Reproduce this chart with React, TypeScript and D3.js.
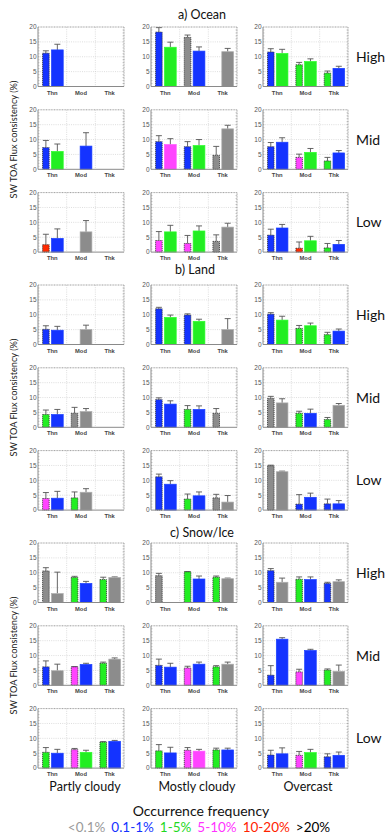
import React from "react";
import * as d3 from "d3";

const width = 387;
const height = 836;

const surfaceTitles = ["a) Ocean", "b) Land", "c) Snow/Ice"];
const cloudHeights = ["High", "Mid", "Low"];
const coverClasses = ["Partly cloudy", "Mostly cloudy", "Overcast"];
const thicknessLabels = ["Thn", "Mod", "Thk"];
const yTicks = [0, 5, 10, 15, 20];
const freqLabels = ["<0.1%", "0.1-1%", "1-5%", "5-10%", "10-20%", ">20%"];
const freqColors = ["#8c8c8c", "#1433ff", "#22ee22", "#ff44ff", "#ff2a00", "#000000"];
const freqTextColors = ["#9a9a9a", "#1433ff", "#1fd81f", "#ff33ff", "#ff2200", "#000000"];

// each panel: [Thn dashed, Thn solid, Mod dashed, Mod solid, Thk dashed, Thk solid]
// panels ordered High(P,M,O), Mid(P,M,O), Low(P,M,O)
const oceanValues = [
  [11.2, 12.3, null, null, null, null],
  [18.3, 13.2, 16.5, 11.9, null, 11.7],
  [11.6, 11.1, 7.3, 8.4, 4.5, 6.1],
  [7.3, 6.0, null, 7.8, null, null],
  [9.3, 8.3, 7.6, 8.0, 4.7, 13.6],
  [7.6, 9.1, 4.0, 5.7, 2.8, 5.5],
  [2.5, 4.6, null, 6.8, null, null],
  [3.9, 6.8, 2.9, 7.1, 3.6, 8.4],
  [5.7, 8.1, 1.3, 3.8, 1.4, 2.6],
];
const oceanErrors = [
  [12.0, 14.2, null, null, null, null],
  [19.8, 14.9, 17.3, 13.3, null, 12.8],
  [12.7, 12.5, 8.1, 9.3, 5.2, 6.8],
  [9.7, 8.5, null, 12.3, null, null],
  [11.3, 10.3, 9.3, 10.0, 7.7, 14.8],
  [9.0, 10.6, 5.1, 7.0, 4.0, 6.3],
  [6.0, 7.8, null, 10.6, null, null],
  [6.9, 9.0, 5.6, 8.8, 5.8, 9.7],
  [7.7, 9.3, 3.4, 5.3, 2.9, 3.9],
];
const oceanFreq = [
  [1, 1, null, null, null, null],
  [1, 2, 0, 1, null, 0],
  [1, 2, 2, 2, 2, 1],
  [1, 2, null, 1, null, null],
  [1, 3, 1, 2, 0, 0],
  [1, 1, 3, 2, 2, 1],
  [4, 1, null, 0, null, null],
  [3, 2, 3, 2, 0, 0],
  [1, 1, 4, 2, 2, 1],
];

const landValues = [
  [5.1, 4.8, null, 5.0, null, null],
  [12.0, 9.1, 9.9, 7.8, null, 5.0],
  [10.2, 8.2, 5.4, 6.3, 3.3, 4.5],
  [4.3, 4.3, 4.7, 5.3, null, null],
  [9.3, 7.8, 6.0, 6.0, 4.7, null],
  [9.7, 8.2, 4.7, 4.7, 2.6, 7.4],
  [3.9, 4.0, 4.1, 6.0, null, null],
  [11.2, 8.7, 3.7, 4.8, 4.1, 2.7],
  [14.9, 12.9, 2.0, 4.3, 2.1, 2.1],
];
const landErrors = [
  [6.3, 6.1, null, 6.5, null, null],
  [12.5, 9.9, 10.3, 8.5, null, 8.7],
  [10.7, 9.5, 6.4, 7.2, 4.1, 5.2],
  [5.8, 6.0, 6.7, 6.3, null, null],
  [9.9, 8.9, 7.3, 7.2, 6.3, null],
  [10.4, 9.6, 5.4, 6.1, 3.3, 8.0],
  [5.9, 6.3, 6.1, 7.2, null, null],
  [12.1, 9.9, 5.4, 6.1, 5.3, 4.9],
  [15.1, 13.1, 5.2, 5.7, 3.7, 3.2],
];
const landFreq = [
  [1, 1, null, 0, null, null],
  [1, 2, 1, 2, null, 0],
  [1, 2, 2, 2, 2, 1],
  [2, 1, 0, 0, null, null],
  [1, 1, 2, 1, 0, null],
  [0, 0, 2, 1, 2, 0],
  [3, 1, 2, 0, null, null],
  [1, 1, 2, 1, 0, 0],
  [0, 0, 1, 1, 1, 1],
];

const snowValues = [
  [10.6, 3.0, 8.4, 6.4, 7.7, 8.4],
  [9.0, null, 10.3, 7.9, 8.5, 8.0],
  [10.7, 6.8, 7.8, 7.7, 6.4, 7.0],
  [6.2, 4.9, 6.2, 7.0, 7.4, 8.8],
  [6.7, 6.1, 5.8, 7.1, 6.2, 7.1],
  [3.4, 15.5, 4.5, 11.7, 5.1, 4.7],
  [5.3, 5.0, 6.2, 5.3, 8.7, 9.0],
  [5.8, 5.1, 6.0, 5.7, 6.1, 6.1],
  [4.4, 4.8, 4.3, 5.2, 3.8, 4.3],
];
const snowErrors = [
  [11.7, 10.2, 8.8, 7.1, 8.5, 8.6],
  [9.8, null, 10.4, 8.9, 8.9, 8.2],
  [11.4, 8.2, 8.6, 8.6, 6.8, 7.6],
  [8.2, 7.1, 6.3, 7.4, 7.8, 9.2],
  [8.8, 7.4, 6.4, 7.8, 6.6, 7.8],
  [6.6, 16.0, 5.4, 12.1, 5.5, 6.8],
  [6.9, 6.3, 6.6, 6.0, 8.9, 9.3],
  [7.9, 7.0, 6.9, 6.3, 6.7, 6.7],
  [6.0, 6.8, 5.6, 6.3, 4.8, 5.4],
];
const snowFreq = [
  [0, 0, 2, 1, 2, 0],
  [0, null, 2, 1, 2, 0],
  [1, 0, 2, 1, 1, 0],
  [1, 0, 3, 1, 2, 0],
  [1, 1, 3, 1, 2, 0],
  [1, 1, 3, 1, 2, 0],
  [2, 1, 3, 2, 2, 1],
  [2, 1, 3, 3, 2, 1],
  [1, 1, 3, 2, 1, 1],
];

const sections = [
  { values: oceanValues, errors: oceanErrors, freq: oceanFreq },
  { values: landValues, errors: landErrors, freq: landFreq },
  { values: snowValues, errors: snowErrors, freq: snowFreq },
];

const sectionTop = [27, 285, 543];
const rowStep = 82.8;
const panelH = 59.5;
const colX = [38, 151, 263];
const colW = [86, 86, 85];
const titlePos = [
  { x: 202, y: 19 },
  { x: 195, y: 274 },
  { x: 202, y: 537 },
];
const colTitleX = [85, 197, 308];

const sans = "Lato, 'Open Sans', sans-serif";
const small = "'Liberation Sans', Arial, sans-serif";

function Panel({ x, y, w, h, values, errors, freq }) {
  const yScale = d3.scaleLinear().domain([0, 20]).range([y + h, y]);
  const xGroup = d3.scaleBand().domain(thicknessLabels).range([x, x + w]);
  const gw = xGroup.bandwidth();
  const minor = d3.range(1, 20);

  const bars = values
    .map((v, i) => {
      if (v == null) return null;
      const g = thicknessLabels[Math.floor(i / 2)];
      const dashed = i % 2 === 0;
      const bx = xGroup(g) + (dashed ? 0.16 * gw : 0.47 * gw);
      const bw = dashed ? 0.23 * gw : 0.41 * gw;
      const col = freqColors[freq[i]];
      return { i, bx, bw, v, e: errors[i], col, dashed };
    })
    .filter(Boolean);

  return (
    <g>
      {yTicks.slice(1, -1).map((t) => (
        <line key={"h" + t} x1={x} x2={x + w} y1={yScale(t)} y2={yScale(t)} stroke="#c8c8c8" strokeWidth={0.6} strokeDasharray="1,1.2" />
      ))}
      {thicknessLabels.slice(1).map((g) => (
        <line key={"v" + g} x1={xGroup(g)} x2={xGroup(g)} y1={y} y2={y + h} stroke="#c8c8c8" strokeWidth={0.6} strokeDasharray="1,1.2" />
      ))}
      {minor.map((t) => (
        <g key={"m" + t}>
          <line x1={x} x2={x + 1.5} y1={yScale(t)} y2={yScale(t)} stroke="#999" strokeWidth={0.5} />
          <line x1={x + w - 1.5} x2={x + w} y1={yScale(t)} y2={yScale(t)} stroke="#999" strokeWidth={0.5} />
        </g>
      ))}
      {bars.map((b) => (
        <g key={b.i}>
          <line x1={b.bx + b.bw / 2} x2={b.bx + b.bw / 2} y1={yScale(b.v)} y2={yScale(b.e)} stroke="#555" strokeWidth={0.9} />
          <line x1={b.bx + b.bw / 2 - 3} x2={b.bx + b.bw / 2 + 3} y1={yScale(b.e)} y2={yScale(b.e)} stroke="#555" strokeWidth={0.9} />
          <rect
            x={b.bx}
            y={yScale(b.v)}
            width={b.bw}
            height={yScale(0) - yScale(b.v)}
            fill={b.col}
            stroke={b.dashed ? "#333" : d3.color(b.col).brighter(0.6).formatHex()}
            strokeWidth={b.dashed ? 0.8 : 0.7}
            strokeDasharray={b.dashed ? "1.2,0.8" : null}
          />
        </g>
      ))}
      <line x1={x} x2={x + w} y1={y} y2={y} stroke="#888" strokeWidth={0.8} strokeDasharray="1,0.6" />
      <line x1={x + w} x2={x + w} y1={y} y2={y + h} stroke="#888" strokeWidth={0.8} strokeDasharray="1,0.6" />
      <line x1={x} x2={x} y1={y} y2={y + h} stroke="#8a8a8a" strokeWidth={1} />
      <line x1={x} x2={x + w} y1={y + h} y2={y + h} stroke="#8a8a8a" strokeWidth={1} />
      {yTicks.map((t) => (
        <text key={"t" + t} x={x - 1.5} y={yScale(t) + 2.3} textAnchor="end" fontSize={6.5} fontFamily={small} fill="#555">
          {t}
        </text>
      ))}
      {thicknessLabels.map((g) => (
        <text key={"l" + g} x={xGroup(g) + gw / 2} y={y + h + 8} textAnchor="middle" fontSize={5.8} fontWeight="bold" fontFamily={small} fill="#444">
          {g}
        </text>
      ))}
    </g>
  );
}

export default function App() {
  return (
    <svg width={width} height={height} style={{ position: "absolute", left: 0, top: 0, background: "#fff" }}>
      {sections.map((s, si) => (
        <g key={si}>
          <text x={titlePos[si].x} y={titlePos[si].y} textAnchor="middle" fontSize={12.5} fontFamily={sans} fill="#111">
            {surfaceTitles[si]}
          </text>
          <text
            transform={`translate(17, ${sectionTop[si] + rowStep + panelH / 2}) rotate(-90)`}
            textAnchor="middle"
            fontSize={9.2}
            fontFamily={sans}
            fill="#222"
          >
            SW TOA Flux consistency (%)
          </text>
          {cloudHeights.map((hl, r) => (
            <g key={hl}>
              <text x={356} y={sectionTop[si] + r * rowStep + panelH / 2 + 5} fontSize={14} fontFamily={sans} fill="#111">
                {hl}
              </text>
              {coverClasses.map((c, ci) => {
                const p = r * 3 + ci;
                return (
                  <Panel
                    key={c}
                    x={colX[ci]}
                    y={sectionTop[si] + r * rowStep}
                    w={colW[ci]}
                    h={panelH}
                    values={s.values[p]}
                    errors={s.errors[p]}
                    freq={s.freq[p]}
                  />
                );
              })}
            </g>
          ))}
        </g>
      ))}
      {coverClasses.map((c, ci) => (
        <text key={c} x={colTitleX[ci]} y={791} textAnchor="middle" fontSize={12.5} fontFamily={sans} fill="#111">
          {c}
        </text>
      ))}
      <text x={201} y={816} textAnchor="middle" fontSize={14} fontFamily={sans} fill="#111">
        Occurrence frequency
      </text>
      <text x={199} y={832} textAnchor="middle" fontSize={13.5} fontFamily={sans}>
        {freqLabels.map((f, i) => (
          <tspan key={f} fill={freqTextColors[i]} dx={i === 0 ? 0 : 6}>
            {f}
          </tspan>
        ))}
      </text>
    </svg>
  );
}
